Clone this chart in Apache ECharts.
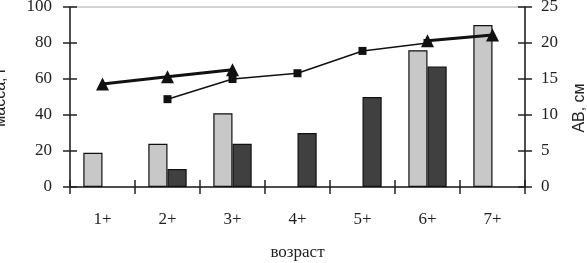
<!DOCTYPE html>
<html>
<head>
<meta charset="utf-8">
<script src="https://cdn.jsdelivr.net/npm/echarts@6/dist/echarts.min.js"></script>
<style>
  html, body { margin: 0; padding: 0; background: #fff; }
  #chart { width: 587px; height: 263px; }
</style>
</head>
<body>
<div id="chart"></div>
<script>
const ages = ["1+", "2+", "3+", "4+", "5+", "6+", "7+"];
const massLight = [19, 24, 41, null, null, 76, 90];
const massDark = [null, 10, 24, 30, 50, 67, null];
const abTriangle = [14.3, 15.3, 16.3, null, null, 20.3, 21.1];
const abSquare = [null, 12.2, 15, 15.8, 18.9, 20, null];
const massTicks = [0, 100, 20];
const abTicks = [0, 25, 5];

const chart = echarts.init(document.getElementById("chart"));

const serif = "Liberation Serif";
const tickStyle = { show: true, length: 7, lineStyle: { color: "#222", width: 1.5 } };

const yBase = (range, pos) => ({
  type: "value", position: pos, min: range[0], max: range[1], interval: range[2],
  axisLine: { show: true, lineStyle: { color: "#222", width: 1.5 } },
  splitLine: { show: false }
});

chart.setOption({
  animation: false,
  grid: {
    left: 70, right: 62, top: 7, bottom: 76, outerBoundsMode: "none",
    show: true, borderColor: "#aaa", borderWidth: 1
  },
  xAxis: [
    {
      type: "category", data: ages,
      axisLine: { lineStyle: { color: "#222", width: 1.5 } },
      axisTick: tickStyle,
      axisLabel: { fontFamily: serif, fontSize: 17, color: "#222", margin: 24 },
      name: "возраст", nameLocation: "middle", nameGap: 57,
      nameTextStyle: { fontFamily: serif, fontSize: 17, color: "#222", letterSpacing: 3 }
    },
    {
      type: "category", data: ages, position: "bottom",
      axisLine: { show: false },
      axisTick: Object.assign({}, tickStyle, { inside: true }),
      axisLabel: { show: false }
    }
  ],
  yAxis: [
    Object.assign(yBase(massTicks, "left"), {
      axisTick: tickStyle,
      axisLabel: { fontFamily: serif, fontSize: 17, color: "#222", margin: 18 },
      name: "масса, г", nameLocation: "middle", nameGap: 61, nameRotate: 90,
      nameTextStyle: { fontFamily: "Liberation Sans", fontSize: 16, color: "#222" }
    }),
    Object.assign(yBase(abTicks, "right"), {
      axisTick: tickStyle,
      axisLabel: { fontFamily: serif, fontSize: 17, color: "#222", margin: 16 },
      name: "АВ, см", nameLocation: "middle", nameGap: 47, nameRotate: 90,
      nameTextStyle: { fontFamily: "Liberation Sans", fontSize: 16, color: "#222", padding: [0, 22, 0, 0] }
    }),
    Object.assign(yBase(massTicks, "left"), {
      axisLine: { show: false },
      axisTick: Object.assign({}, tickStyle, { inside: true }),
      axisLabel: { show: false }
    }),
    Object.assign(yBase(abTicks, "right"), {
      axisLine: { show: false },
      axisTick: Object.assign({}, tickStyle, { inside: true }),
      axisLabel: { show: false }
    })
  ],
  series: [
    {
      type: "bar", data: massLight, yAxisIndex: 0, barGap: 0, barCategoryGap: "41%",
      itemStyle: { color: "#c8c8c8", borderColor: "#111", borderWidth: 1.2 }
    },
    {
      type: "bar", data: massDark, yAxisIndex: 0,
      itemStyle: { color: "#404040", borderColor: "#111", borderWidth: 1.2 }
    },
    {
      type: "line", data: abSquare, yAxisIndex: 1, connectNulls: false,
      symbol: "rect", symbolSize: 8,
      lineStyle: { color: "#111", width: 1.5 }, itemStyle: { color: "#111" }
    },
    {
      type: "line", data: abTriangle, yAxisIndex: 1, connectNulls: false,
      symbol: "triangle", symbolSize: 13,
      lineStyle: { color: "#111", width: 3 }, itemStyle: { color: "#111" }
    }
  ]
});
</script>
</body>
</html>
